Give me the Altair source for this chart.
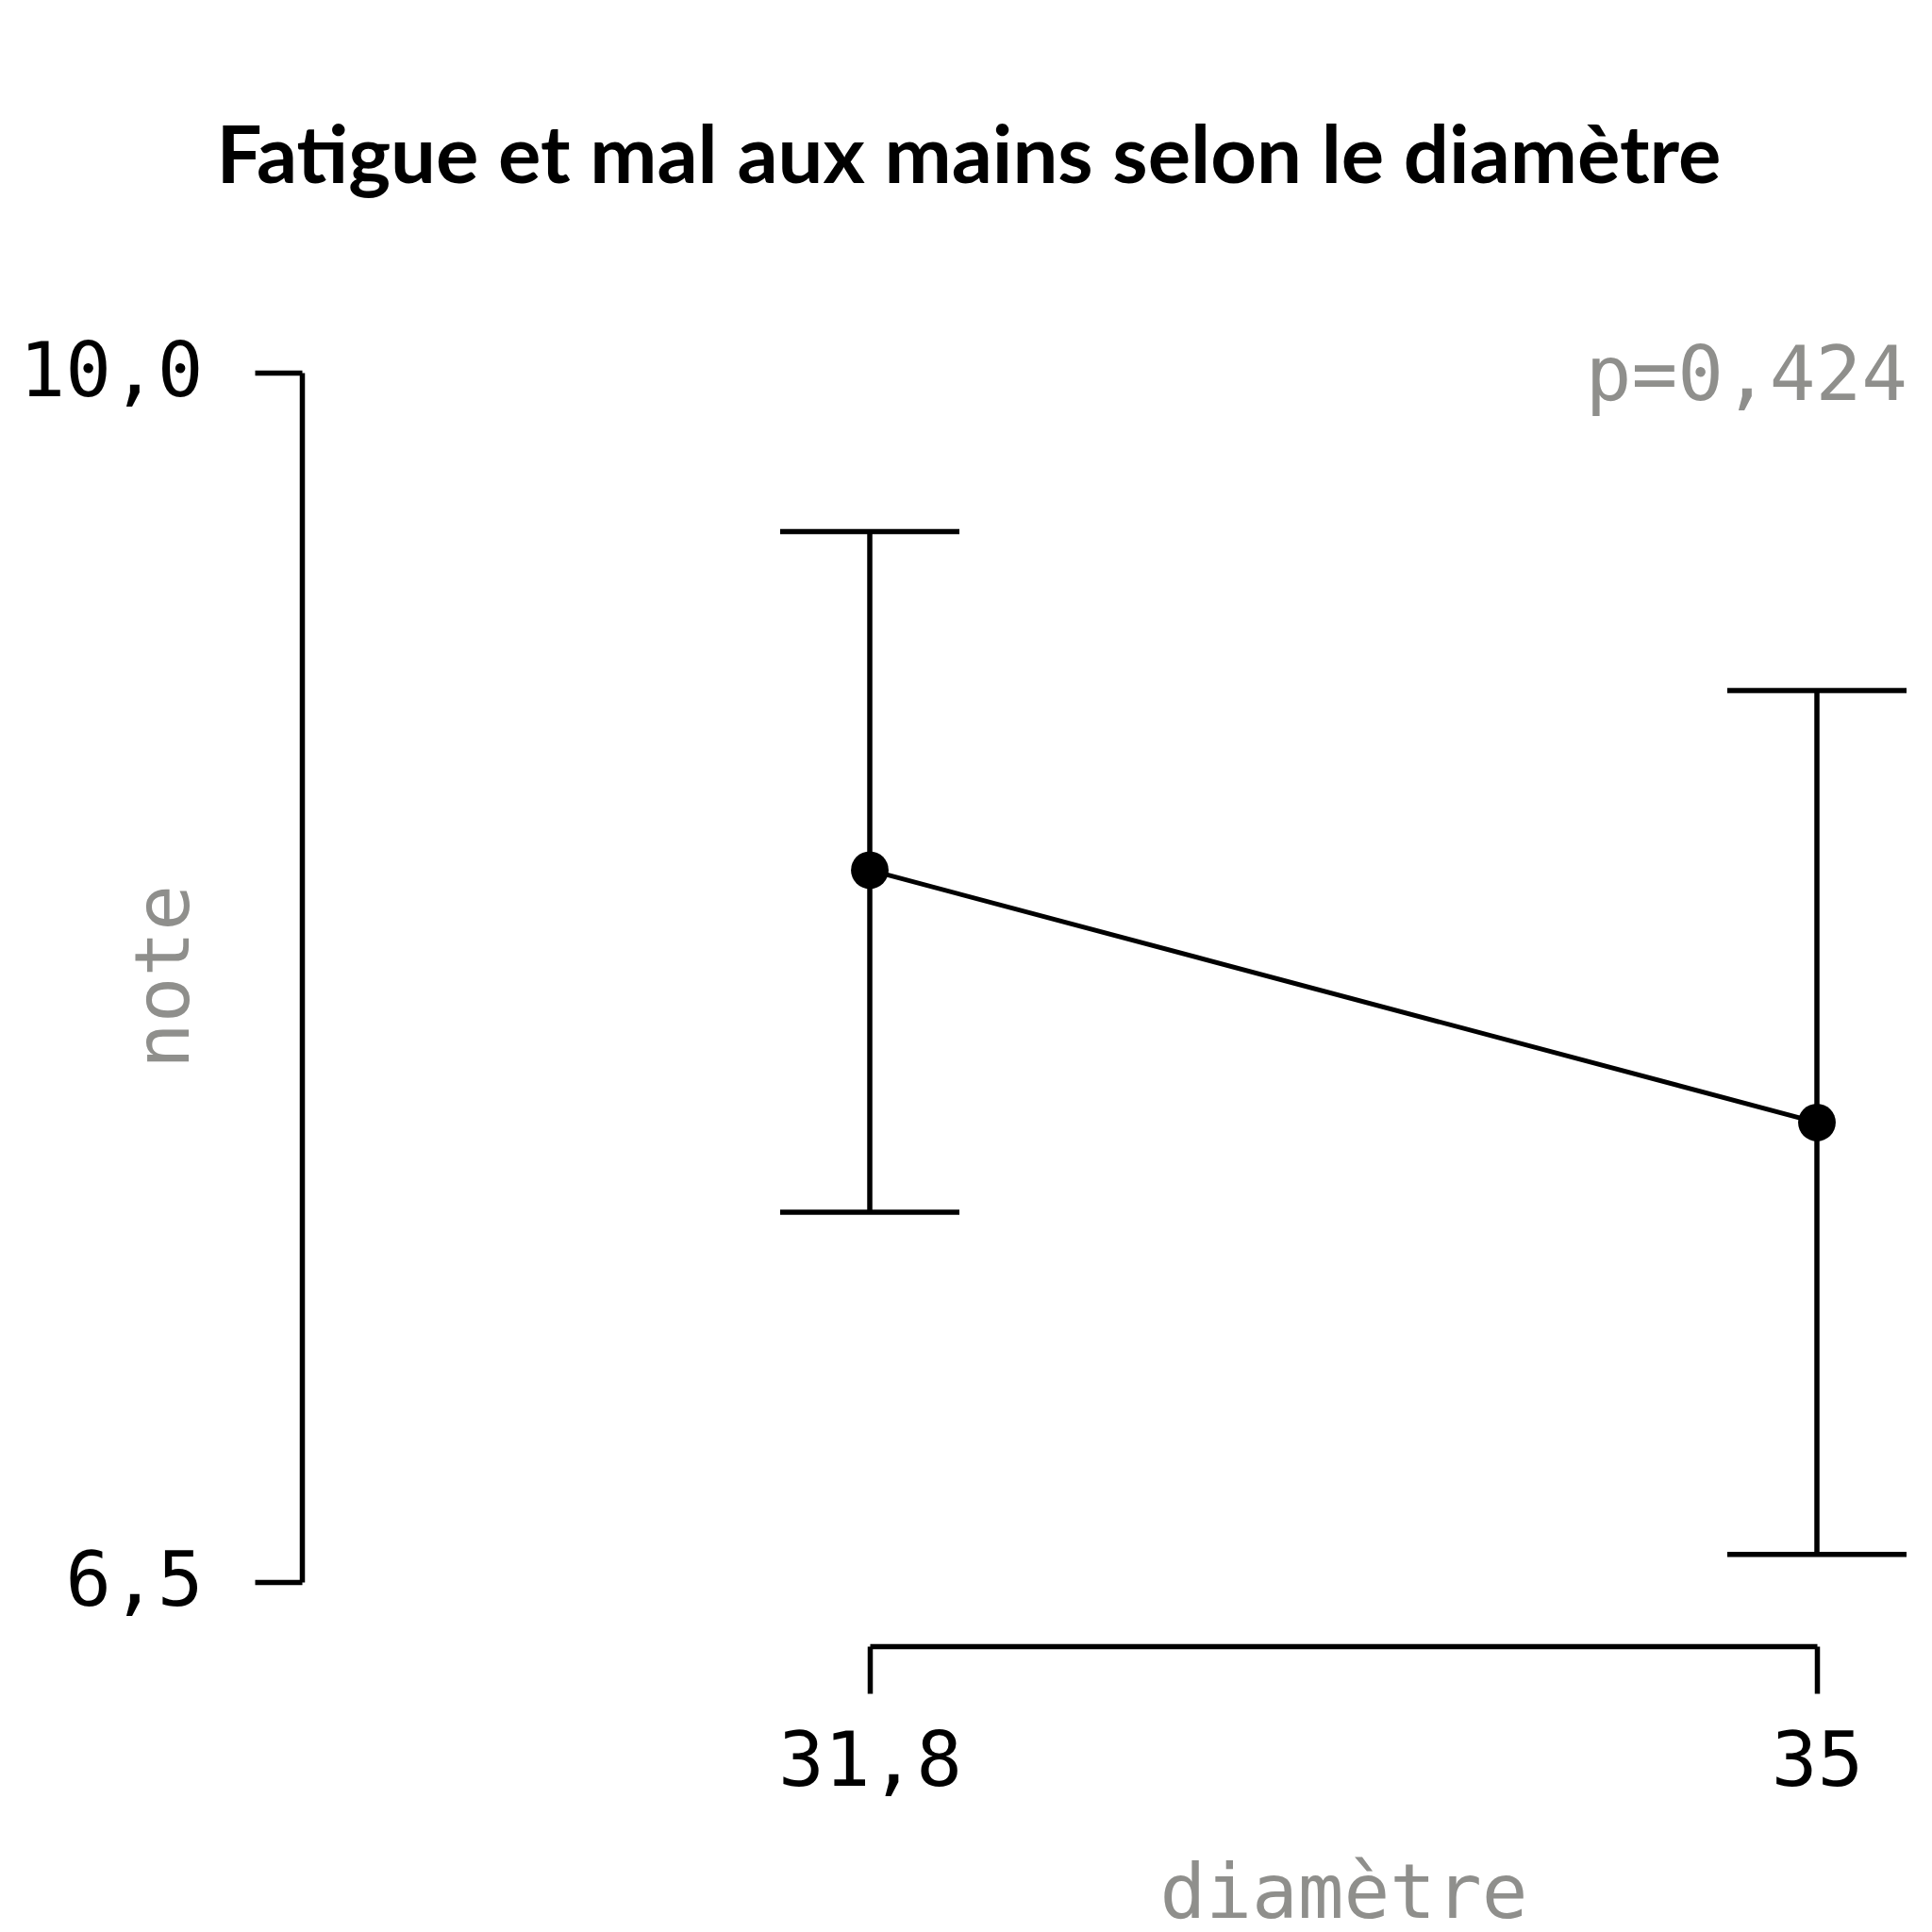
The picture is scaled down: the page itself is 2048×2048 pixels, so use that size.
import altair as alt
import pandas as pd

diametre = [31.8, 35]
moyenne = [8.56, 7.83]
bas = [7.57, 6.58]
haut = [9.54, 9.08]
y_ticks = [6.5, 10.0]
x_ticks = [31.8, 35]
p_label = ["p=0,424"]
titre = "Fatigue et mal aux mains selon le diamètre"

df = pd.DataFrame({"diametre": diametre, "moyenne": moyenne, "bas": bas, "haut": haut})
dfp = pd.DataFrame({"diametre": [35], "y": [10.0], "label": p_label})

MONO = "DejaVu Sans Mono"
GREY = "#8f8f8c"
FS = 81
SW = 5.5

xs = alt.Scale(domain=[31.8, 35], nice=False, zero=False)
ys = alt.Scale(domain=[6.5, 10.0], nice=False, zero=False)

x_axis = alt.Axis(
    values=x_ticks,
    labelExpr="replace(toString(datum.value), '.', ',')",
    offset=68, tickSize=50, tickWidth=SW, domainWidth=SW,
    domainColor="black", tickColor="black", grid=False,
    labelFont=MONO, labelFontSize=FS, labelColor="black",
    labelBaseline="alphabetic", labelPadding=97, labelFlush=False, labelLimit=0,
    labelOverlap=False,
    title="diamètre", titleFont=MONO, titleFontSize=FS, titleFontWeight="normal",
    titleColor=GREY, titleBaseline="alphabetic", titleY=287,
)
y_axis = alt.Axis(
    values=y_ticks,
    labelExpr="replace(format(datum.value, '.1f'), '.', ',')",
    offset=602, tickSize=50, tickWidth=SW, domainWidth=SW,
    domainColor="black", tickColor="black", grid=False,
    labelFont=MONO, labelFontSize=FS, labelColor="black",
    labelPadding=55, labelFlush=False, labelLimit=0, labelOverlap=False,
    title="note", titleFont=MONO, titleFontSize=FS, titleFontWeight="normal",
    titleColor=GREY, titleAngle=270, titleBaseline="alphabetic", titleAlign="center",
    titleX=-121, titleY=640,
)

base = alt.Chart(df)

line = base.mark_line(color="black", strokeWidth=5).encode(
    x=alt.X("diametre:Q", scale=xs, axis=x_axis),
    y=alt.Y("moyenne:Q", scale=ys, axis=y_axis),
)
rule = base.mark_rule(color="black", strokeWidth=SW).encode(
    x="diametre:Q", y="bas:Q", y2="haut:Q"
)
cap_lo = base.mark_tick(color="black", orient="horizontal", size=190, thickness=SW, opacity=1).encode(
    x="diametre:Q", y="bas:Q"
)
cap_hi = base.mark_tick(color="black", orient="horizontal", size=190, thickness=SW, opacity=1).encode(
    x="diametre:Q", y="haut:Q"
)
pts = base.mark_circle(color="black", size=1590, opacity=1).encode(
    x="diametre:Q", y="moyenne:Q"
)
ptxt = alt.Chart(dfp).mark_text(
    font=MONO, fontSize=FS, color=GREY, align="right", baseline="alphabetic", dx=96, dy=29
).encode(x="diametre:Q", y="y:Q", text="label:N")

chart = alt.layer(line, rule, cap_lo, cap_hi, pts, ptxt).properties(
    width=1004, height=1282,
    background="white",
    title=alt.TitleParams(titre, font="Lato", fontSize=85, fontWeight="bold", color="black",
                          anchor="middle", frame="group", baseline="alphabetic",
                          offset=75, dx=-397),
    autosize=alt.AutoSizeParams(type="none"),
    padding={"left": 914, "top": 387, "right": 112, "bottom": 361},
).configure_view(strokeWidth=0, stroke="transparent")

chart.save("out.html", embed_options={"renderer": "svg", "actions": False})
